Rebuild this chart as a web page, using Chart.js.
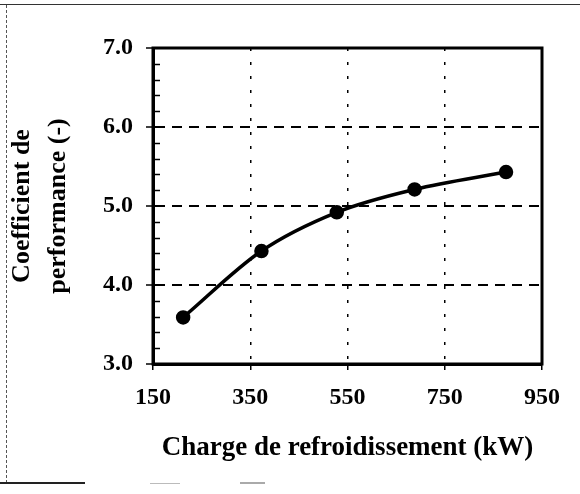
<!DOCTYPE html>
<html><head><meta charset="utf-8">
<script src="https://cdn.jsdelivr.net/npm/chart.js@4/dist/chart.umd.min.js"></script>
<style>
html,body{margin:0;padding:0;background:#fff;}
#wrap{position:relative;width:580px;height:494px;overflow:hidden;}
canvas{position:absolute;left:0;top:0;}
.ln{position:absolute;}
</style></head><body>
<div id="wrap">
<div class="ln" style="left:0;top:4px;width:580px;height:0;border-top:1.5px solid #333"></div>
<div class="ln" style="left:6px;top:5px;width:0;height:478px;border-left:1.5px dashed #555"></div>
<div class="ln" style="left:0;top:482px;width:85px;height:0;border-top:2px solid #222"></div>
<div class="ln" style="left:150px;top:483px;width:30px;height:0;border-top:1px solid #bbb"></div>
<div class="ln" style="left:240px;top:482px;width:25px;height:0;border-top:2px solid #aaa"></div>
<canvas id="c" width="580" height="494"></canvas>
</div>
<script>
const loads = [212, 373, 528, 688, 876];
const cop = [3.59, 4.43, 4.92, 5.21, 5.43];
const xTickValues = [150, 350, 550, 750, 950];
const yTickValues = [3, 4, 5, 6, 7];
const xTitle = 'Charge de refroidissement (kW)';
const yTitle = ['Coefficient de', 'performance (-)'];

const FONT = "'Liberation Serif', 'Times New Roman', serif";
const PAD = {left: 4, right: 38, top: 48, bottom: 18};

const framePlugin = {
  id: 'frame',
  beforeDatasetsDraw(chart) {
    const {ctx, chartArea: a, scales} = chart;
    ctx.save();
    ctx.strokeStyle = '#000';
    ctx.lineWidth = 1.5;
    const ys = scales.y;
    for (let i = 1; i < 20; i++) {
      if (i % 5 === 0) continue;
      const v = ys.min + i * 0.2;
      const py = Math.round(ys.getPixelForValue(v)) + 0.5;
      ctx.beginPath();
      ctx.moveTo(a.left, py);
      ctx.lineTo(a.left + 7, py);
      ctx.stroke();
    }
    ctx.lineWidth = 3;
    ctx.strokeRect(a.left, a.top, a.right - a.left, a.bottom - a.top);
    ctx.restore();
  }
};

new Chart(document.getElementById('c'), {
  type: 'line',
  data: {
    datasets: [{
      data: loads.map((x, i) => ({x, y: cop[i]})),
      borderColor: '#000',
      backgroundColor: '#000',
      borderWidth: 3.5,
      pointRadius: 5.5,
      pointBackgroundColor: '#000',
      pointBorderColor: '#000',
      tension: 0.4,
      cubicInterpolationMode: 'monotone',
      fill: false
    }]
  },
  options: {
    responsive: false,
    animation: false,
    layout: {padding: PAD},
    plugins: {legend: {display: false}, tooltip: {enabled: false}},
    scales: {
      x: {
        type: 'linear',
        min: 150, max: 950,
        afterBuildTicks(s) { s.ticks = xTickValues.map(v => ({value: v})); },
        afterFit(s) { s.height = 494 - 364 - PAD.bottom; },
        ticks: {
          color: '#000', padding: 13,
          font: {family: FONT, size: 24, weight: 'bold'},
          callback: v => String(v)
        },
        grid: {
          color: c => (c.tick && (c.tick.value === 150 || c.tick.value === 950)) ? 'rgba(0,0,0,0)' : '#000',
          lineWidth: 1.5,
          drawTicks: true,
          tickLength: 6,
          tickColor: '#000',
          tickWidth: 1.5
        },
        border: {display: true, color: '#000', width: 3, dash: [3, 11]},
        title: {
          display: true, text: xTitle, color: '#000',
          font: {family: FONT, size: 27, weight: 'bold'},
          padding: {top: 0, bottom: 12}
        }
      },
      y: {
        min: 3, max: 7,
        afterBuildTicks(s) { s.ticks = yTickValues.map(v => ({value: v})); },
        afterFit(s) { s.width = 153 - PAD.left; },
        ticks: {
          color: '#000', padding: 13,
          font: {family: FONT, size: 24, weight: 'bold'},
          callback: v => Number(v).toFixed(1)
        },
        grid: {
          color: c => (c.tick && (c.tick.value === 3 || c.tick.value === 7)) ? 'rgba(0,0,0,0)' : '#000',
          lineWidth: 2,
          drawTicks: true,
          tickLength: 7,
          tickColor: '#000',
          tickWidth: 1.5
        },
        border: {display: true, color: '#000', width: 3, dash: [10, 7]},
        title: {
          display: true, text: yTitle, color: '#000',
          font: {family: FONT, size: 26, weight: 'bold', lineHeight: 1.4},
          padding: {top: 0, bottom: 0}
        }
      }
    }
  },
  plugins: [framePlugin]
});
</script>
</body></html>
